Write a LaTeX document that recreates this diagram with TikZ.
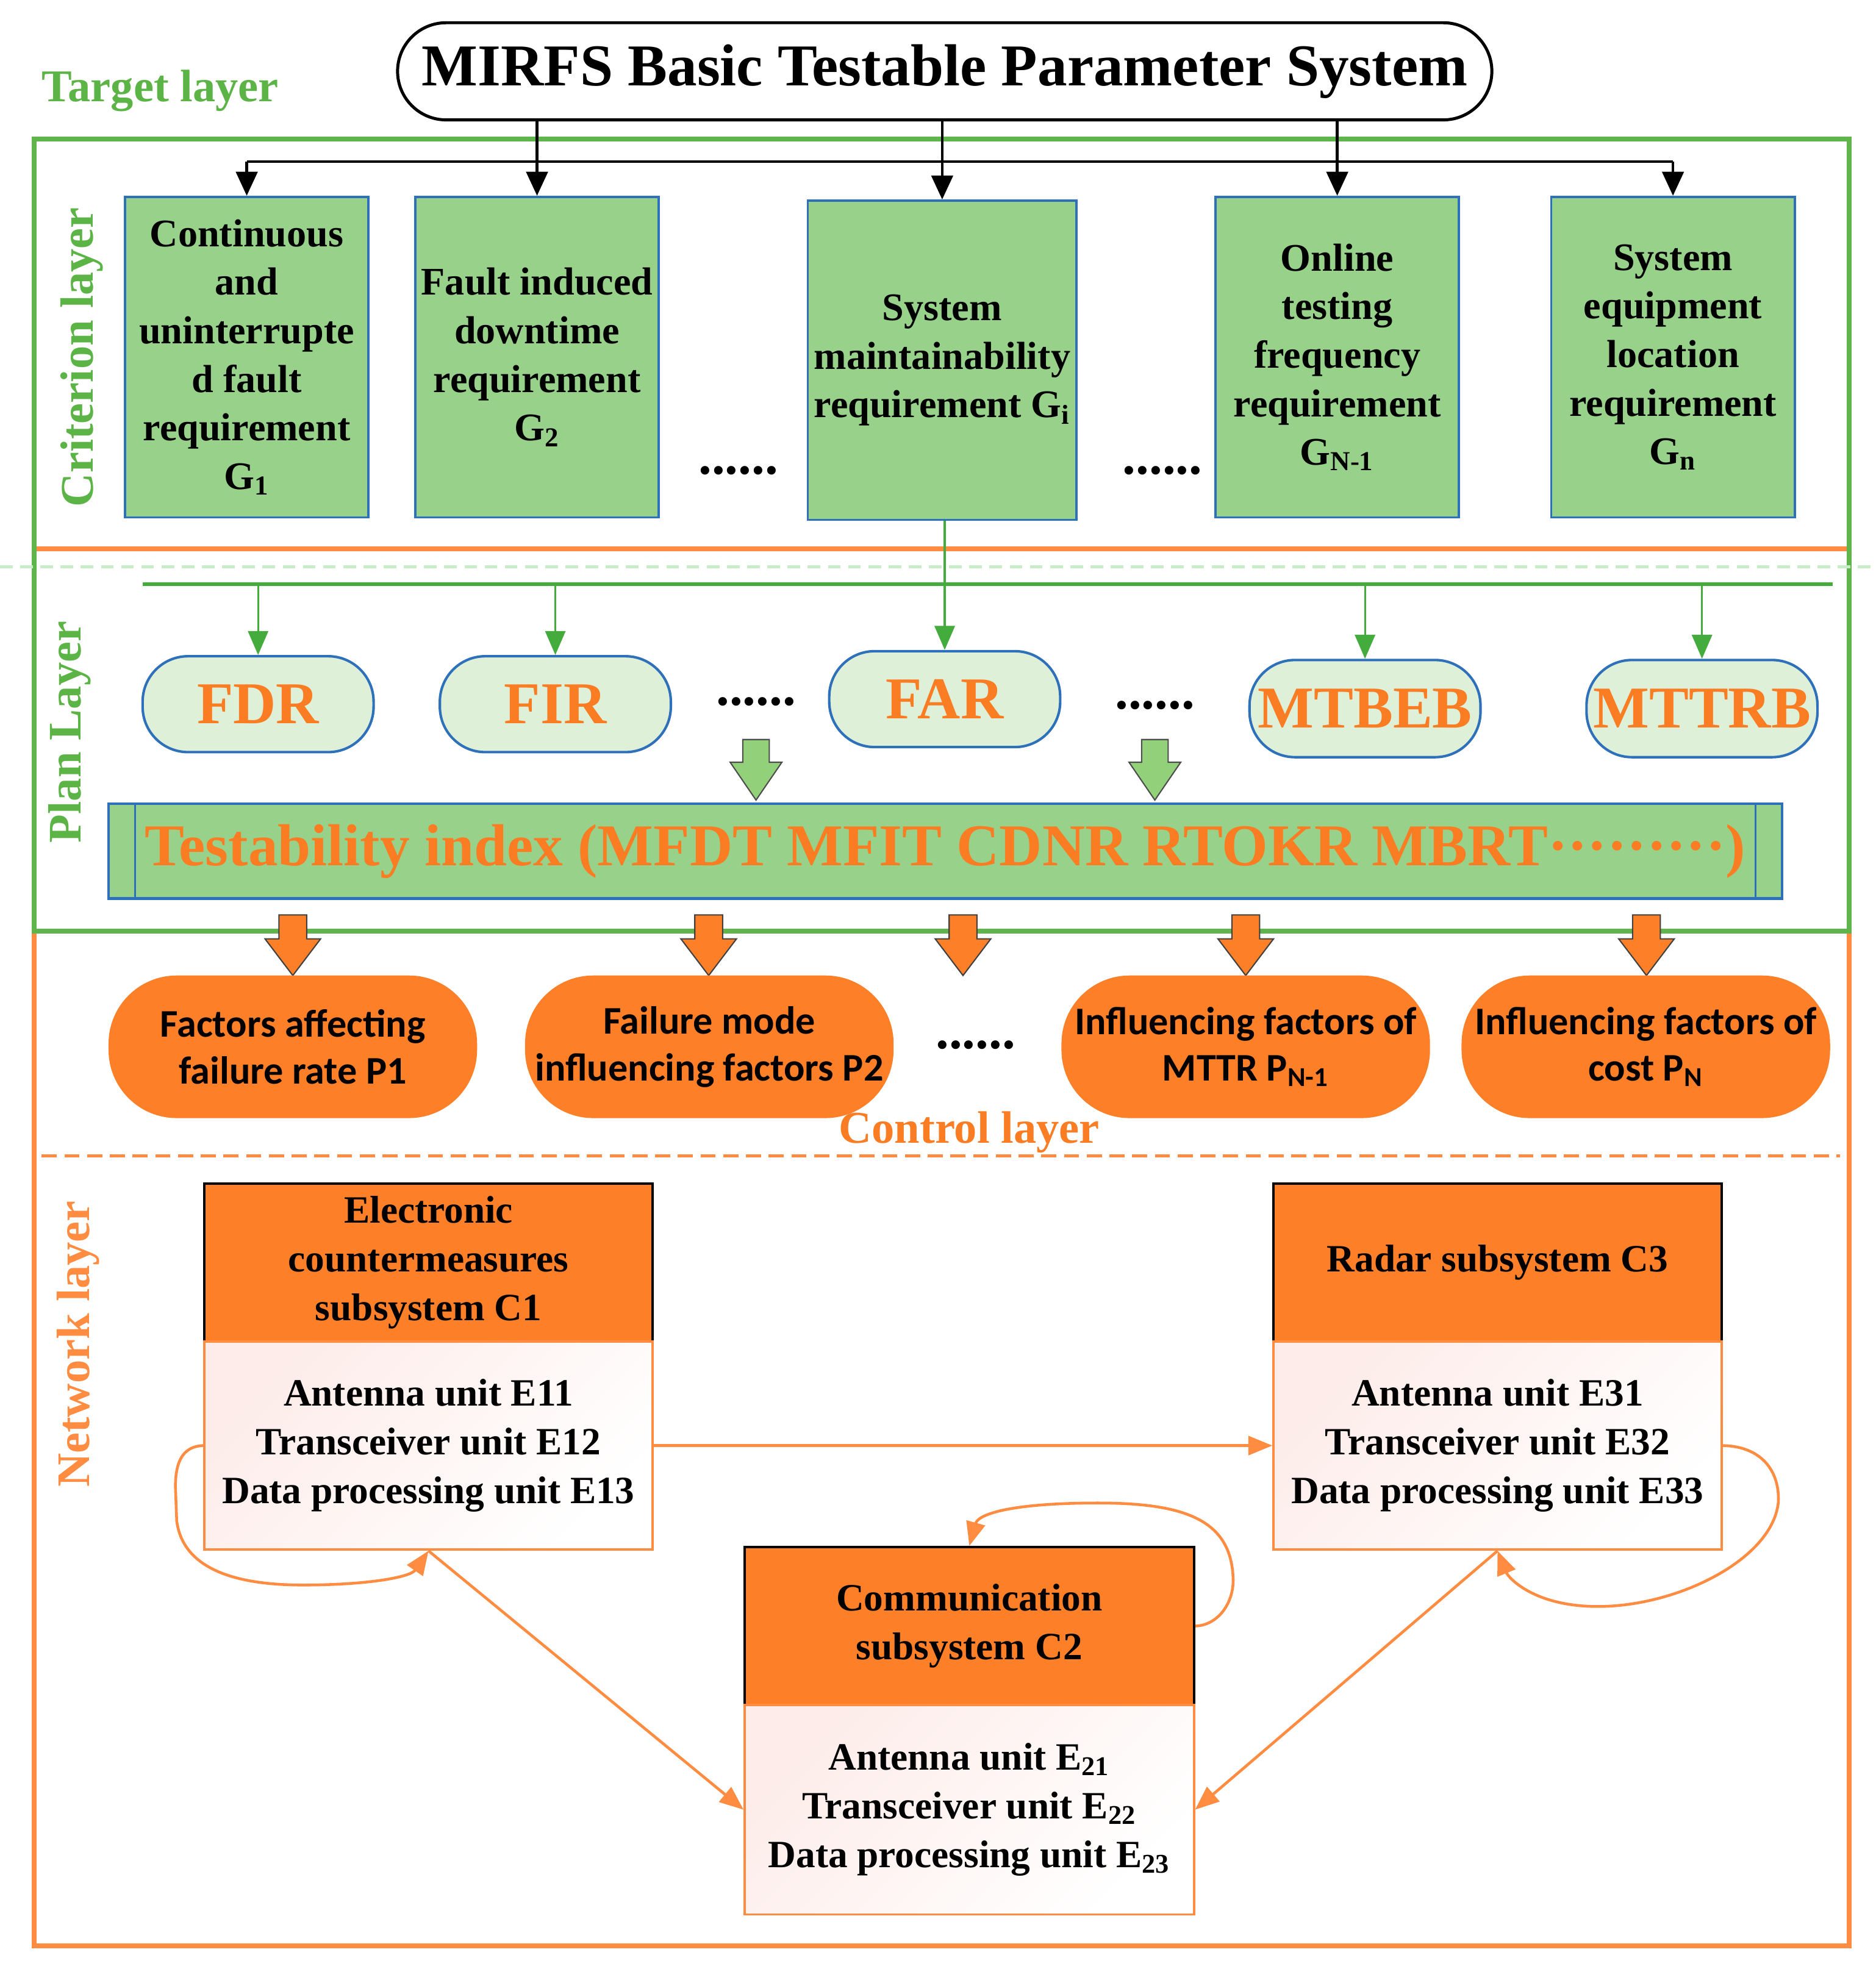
\documentclass[tikz,border=0pt]{standalone}
\usepackage{fontspec}
\setmainfont{Liberation Serif}
\newfontfamily\calibri{Carlito}
\usetikzlibrary{arrows.meta,shapes.misc}
\definecolor{gfill}{RGB}{152,210,138}
\definecolor{cfill}{RGB}{222,240,216}
\definecolor{bblue}{RGB}{47,112,186}
\definecolor{ofill}{RGB}{253,127,39}
\definecolor{otext}{RGB}{250,125,35}
\definecolor{oline}{RGB}{255,140,64}
\definecolor{gline}{RGB}{96,180,76}
\definecolor{gtext}{RGB}{92,180,70}
\definecolor{garr}{RGB}{68,172,60}
\definecolor{gdash}{RGB}{200,235,200}
\definecolor{barrg}{RGB}{146,208,122}
\definecolor{bodypink}{RGB}{253,236,233}
\tikzset{
  critbox/.style={draw=bblue, line width=0.9pt, fill=gfill, minimum width=96.5pt, minimum height=127pt, inner sep=1pt, align=center, font=\bfseries\fontsize{15.5}{19.25}\selectfont},
  capsule/.style={draw=bblue, line width=1pt, fill=cfill, rounded corners=18pt, minimum width=91.5pt, minimum height=38pt, inner sep=0pt, text=otext, font=\bfseries\fontsize{23.5}{28}\selectfont},
  factor/.style={fill=ofill, rounded corners=27pt, minimum width=146pt, minimum height=56.5pt, inner sep=0pt, align=center, font=\calibri\bfseries\fontsize{15.5}{18.5}\selectfont},
  headbox/.style={draw=black, line width=1pt, fill=ofill, minimum width=177.5pt, minimum height=62.5pt, inner sep=0pt, align=center, font=\bfseries\fontsize{15.3}{19.25}\selectfont},
  bodybox/.style={draw=oline, line width=0.9pt, top color=bodypink, bottom color=white, shading angle=45, minimum width=177.5pt, minimum height=82.5pt, inner sep=0pt, align=center, font=\bfseries\fontsize{15.3}{19.25}\selectfont},
  layerlbl/.style={font=\bfseries\fontsize{18.5}{20}\selectfont, inner sep=0pt},
  dotlbl/.style={font=\bfseries\fontsize{21}{21}\selectfont, inner sep=0pt},
  blackarrow/.style={draw=black, line width=1.1pt, -{Triangle[length=9.5pt,width=8.5pt]}},
  blackline/.style={draw=black, line width=1.1pt},
  greenarrow/.style={draw=garr, line width=0.8pt, -{Triangle[length=9.5pt,width=8pt]}},
  orangearrow/.style={draw=oline, line width=1.1pt, -{Triangle[length=9.5pt,width=7.5pt]}},
  garrowpic/.pic={\path[pic actions] (-10.5,0) -- (-10.5,18) -- (-20.5,18) -- (0,48) -- (20.5,18) -- (10.5,18) -- (10.5,0) -- cycle;},
  oarrowpic/.pic={\path[pic actions] (-11,0) -- (-11,19) -- (-22,19) -- (0,48) -- (22,19) -- (11,19) -- (11,0) -- cycle;}
}
\begin{document}
\begin{tikzpicture}[x=0.5pt,y=-0.5pt]
\useasboundingbox (0,0) rectangle (1486,1569);
\fill[white] (0,0) rectangle (1486,1569);

% layer frames
\draw[oline, line width=2pt] (27,435) rectangle (1465,1542);
\draw[gline, line width=2pt] (27,110) rectangle (1465,738);
\draw[gdash, line width=1.3pt, dash pattern=on 5pt off 3pt] (0,449) -- (1486,449);
\draw[oline, line width=1.1pt, dash pattern=on 6pt off 3pt] (33,916) -- (1458,916);

% layer labels
\node[layerlbl, text=gtext, font=\bfseries\fontsize{18}{20}\selectfont] (lblT) at (127,72) {Target layer};
\node[layerlbl, text=gtext, rotate=90] (lblC) at (65,283) {Criterion layer};
\node[layerlbl, text=gtext, rotate=90] (lblP) at (55,580) {Plan Layer};
\node[layerlbl, text=oline, rotate=90] (lblN) at (62,1065) {Network layer};
\node[layerlbl, text=otext, font=\bfseries\fontsize{18}{20}\selectfont] (lblCtl) at (768,897) {Control layer};

% title
\node[draw=black, rounded rectangle, line width=1.2pt, minimum width=433.5pt, minimum height=38.5pt, inner sep=0pt, font=\bfseries\fontsize{23.5}{28}\selectfont] (title) at (748.5,56.5) {MIRFS Basic Testable Parameter System};

% criterion boxes
\node[critbox] (G1) at (195.5,283) {Continuous\\and\\uninterrupte\\d fault\\requirement\\G\textsubscript{1}};
\node[critbox] (G2) at (425.5,283) {Fault induced\\downtime\\requirement\\G\textsubscript{2}};
\node[critbox, minimum width=106.5pt, minimum height=126.5pt] (Gi) at (746.5,285.5) {System\\maintainability\\requirement G\textsubscript{i}};
\node[critbox] (GN1) at (1059.5,283) {Online\\testing\\frequency\\requirement\\G\textsubscript{N-1}};
\node[critbox] (Gn) at (1325.5,283) {System\\equipment\\location\\requirement\\G\textsubscript{n}};
\node[dotlbl] (dotsA) at (585,373) {......};
\node[dotlbl] (dotsB) at (921,373) {......};

% black connectors
\coordinate (hb) at (748,128);
\draw[blackline] (G1.north |- hb) -- (Gn.north |- hb);
\draw[blackarrow] (G1.north |- hb) -- (G1.north);
\draw[blackarrow] (Gn.north |- hb) -- (Gn.north);
\draw[blackarrow] (title.south -| G2.north) -- (G2.north);
\draw[blackarrow] (title.south -| Gi.north) -- (Gi.north);
\draw[blackarrow] (title.south -| GN1.north) -- (GN1.north);

% plan layer capsules
\node[capsule] (FDR) at (204.5,558) {FDR};
\node[capsule] (FIR) at (440,558) {FIR};
\node[capsule] (FAR) at (748.5,554) {FAR};
\node[capsule, minimum height=38.5pt] (MTBEB) at (1081.5,561.5) {MTBEB};
\node[capsule, minimum height=38.5pt] (MTTRB) at (1348.5,561.5) {MTTRB};
\node[dotlbl] (dotsC) at (599,556) {......};
\node[dotlbl] (dotsD) at (915,559) {......};

% green connectors
\coordinate (gbL) at (113,463);
\coordinate (gbR) at (1452,463);
\draw[garr, line width=1.6pt] (gbL) -- (gbR);
\draw[greenarrow] (FDR.north |- gbL) -- (FDR.north);
\draw[greenarrow] (FIR.north |- gbL) -- (FIR.north);
\draw[greenarrow] (MTBEB.north |- gbL) -- (MTBEB.north);
\draw[greenarrow] (MTTRB.north |- gbL) -- (MTTRB.north);
\draw[greenarrow] (Gi.south -| FAR.north) -- (FAR.north);

% testability index
\node[draw=bblue, line width=1pt, fill=gfill, minimum width=663pt, minimum height=37.5pt, inner sep=0pt, text=otext, font=\bfseries\fontsize{23.5}{28}\selectfont] (TI) at (749,674.5) {Testability index (MFDT MFIT CDNR RTOKR MBRT·········)};
\draw[bblue, line width=0.8pt] ([xshift=11pt]TI.north west) -- ([xshift=11pt]TI.south west);
\draw[bblue, line width=0.8pt] ([xshift=-11pt]TI.north east) -- ([xshift=-11pt]TI.south east);

% block arrows
\pic[fill=barrg, draw=black!70, line width=0.5pt] at (599,586) {garrowpic};
\pic[fill=barrg, draw=black!70, line width=0.5pt] at (915,586) {garrowpic};
\foreach \ax in {232,561.5,763,987,1304.5}
  \pic[fill=ofill, draw=black!75, line width=0.5pt] at (\ax,725) {oarrowpic};

% control layer factors
\node[factor] (P1) at (232,829.5) {Factors affecting\\failure rate P1};
\node[factor] (P2) at (562,829.5) {Failure mode\\influencing factors P2};
\node[factor] (PN1) at (987,829.5) {Influencing factors of\\MTTR P\textsubscript{N-1}};
\node[factor] (PN) at (1304,829.5) {Influencing factors of\\cost P\textsubscript{N}};
\node[dotlbl] (dotsE) at (773,828) {......};

% network layer
\node[headbox] (C1h) at (339.5,1000.5) {Electronic\\countermeasures\\subsystem C1};
\node[bodybox] (C1b) at (339.5,1145.5) {Antenna unit E11\\Transceiver unit E12\\Data processing unit E13};
\node[headbox] (C3h) at (1186.5,1000.5) {Radar subsystem C3};
\node[bodybox] (C3b) at (1186.5,1145.5) {Antenna unit E31\\Transceiver unit E32\\Data processing unit E33};
\node[headbox, minimum width=178pt] (C2h) at (768,1288.5) {Communication\\subsystem C2};
\node[bodybox, minimum width=178pt, minimum height=83pt] (C2b) at (768,1434) {Antenna unit E\textsubscript{21}\\Transceiver unit E\textsubscript{22}\\Data processing unit E\textsubscript{23}};

% network connectors
\draw[orangearrow] (C1b.east) -- (C3b.west);
\draw[orangearrow] (C1b.west) .. controls (145,1146) and (139,1158) .. (139,1178)
   -- (140,1205) .. controls (145,1245) and (190,1256) .. (240,1256)
   .. controls (290,1256) and (325,1250) .. (C1b.south);
\draw[orangearrow] (C1b.south) -- (C2b.west);
\draw[orangearrow] (C3b.east) .. controls (1395,1146) and (1410,1165) .. (1409,1190)
   .. controls (1405,1235) and (1330,1273) .. (1266,1273)
   .. controls (1215,1273) and (1195,1250) .. (C3b.south);
\draw[orangearrow] (C3b.south) -- (C2b.east);
\draw[orangearrow] (C2h.east) .. controls (965,1288) and (978,1270) .. (977,1250)
   .. controls (975,1205) and (940,1191) .. (870,1191)
   .. controls (800,1191) and (775,1200) .. (C2h.north);
\end{tikzpicture}
\end{document}
